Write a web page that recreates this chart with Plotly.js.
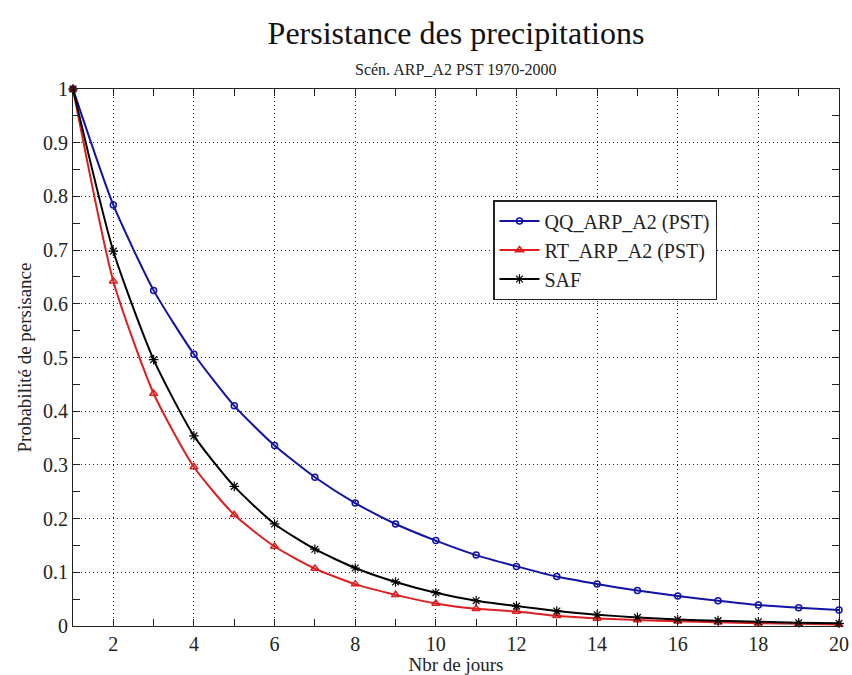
<!DOCTYPE html>
<html>
<head>
<meta charset="utf-8">
<script src="https://cdn.plot.ly/plotly-3.0.1.min.js"></script>
<style>html,body{margin:0;padding:0;background:#fff;}#chart{width:852px;height:675px;}</style>
</head>
<body>
<div id="chart"></div>
<script>
const days = [1,2,3,4,5,6,7,8,9,10,11,12,13,14,15,16,17,18,19,20];
const qqValues = [1,0.784,0.625,0.506,0.410,0.336,0.277,0.229,0.190,0.159,0.132,0.111,0.092,0.078,0.066,0.056,0.047,0.039,0.034,0.030];
const rtValues = [1,0.642,0.433,0.296,0.207,0.148,0.107,0.078,0.058,0.042,0.032,0.027,0.019,0.014,0.011,0.009,0.007,0.005,0.004,0.003];
const safValues = [1,0.698,0.496,0.354,0.260,0.190,0.143,0.108,0.082,0.062,0.047,0.037,0.028,0.021,0.016,0.012,0.010,0.008,0.006,0.005];
const seriesNames = ['QQ_ARP_A2 (PST)','RT_ARP_A2 (PST)','SAF'];
const xTickVals = [2,4,6,8,10,12,14,16,18,20];
const yTickVals = [0,0.1,0.2,0.3,0.4,0.5,0.6,0.7,0.8,0.9,1];
const yTickText = ['0','0.1','0.2','0.3','0.4','0.5','0.6','0.7','0.8','0.9','1'];

const serif = 'Liberation Serif';

const traces = [
  {x: days, y: qqValues, name: seriesNames[0], mode: 'lines+markers',
   line: {color: '#1212a6', width: 2, shape: 'spline', smoothing: 0.6},
   marker: {symbol: 'circle-open', size: 6, color: '#1212a6', line: {width: 1.5}}, cliponaxis: false},
  {x: days, y: rtValues, name: seriesNames[1], mode: 'lines+markers',
   line: {color: '#dd1f1f', width: 2, shape: 'spline', smoothing: 0.6},
   marker: {symbol: 'triangle-up-open', size: 7, color: '#dd1f1f', line: {width: 1.5}}, cliponaxis: false},
  {x: days, y: safValues, name: seriesNames[2], mode: 'lines+markers',
   line: {color: '#000000', width: 2, shape: 'spline', smoothing: 0.6},
   marker: {symbol: 'asterisk-open', size: 8, color: '#000000', line: {width: 1.2, color: '#000000'}}, cliponaxis: false}
];

const layout = {
  width: 852, height: 675,
  paper_bgcolor: '#ffffff', plot_bgcolor: '#ffffff',
  margin: {l: 73, r: 13, t: 89, b: 49},
  font: {family: serif, color: '#222222', size: 20},
  title: {text: 'Persistance des precipitations', font: {family: serif, size: 32, color: '#111'},
          x: 0.5, xref: 'paper', y: 1 - 33/675, yref: 'container', yanchor: 'middle'},
  annotations: [
    {text: 'Scén. ARP_A2 PST 1970-2000', xref: 'paper', yref: 'paper', x: 0.5, y: 1 + (89-70)/537,
     yanchor: 'middle', xanchor: 'center', showarrow: false, font: {family: serif, size: 16, color: '#222'}}
  ],
  xaxis: {
    range: [1, 20], tickvals: xTickVals, ticks: 'inside', ticklen: 7, tickcolor: '#222', tickwidth: 1,
    showline: true, linecolor: '#222', linewidth: 1, mirror: 'ticks',
    showgrid: true, gridcolor: '#222', griddash: '1px,3px', gridwidth: 1,
    minor: {dtick: 1, tick0: 1, ticks: 'inside', ticklen: 7, tickcolor: '#222', showgrid: false},
    zeroline: false, tickfont: {family: serif, size: 20, color: '#222'},
    title: {text: 'Nbr de jours', font: {family: serif, size: 19, color: '#222'}, standoff: 4}
  },
  yaxis: {
    range: [0, 1], tickvals: yTickVals, ticktext: yTickText, ticks: 'inside', ticklen: 7, tickcolor: '#222', tickwidth: 1,
    showline: true, linecolor: '#222', linewidth: 1, mirror: 'ticks',
    showgrid: true, gridcolor: '#222', griddash: '1px,3px', gridwidth: 1,
    minor: {dtick: 0.05, tick0: 0, ticks: 'inside', ticklen: 7, tickcolor: '#222', showgrid: false},
    zeroline: false, tickfont: {family: serif, size: 20, color: '#222'},
    title: {text: 'Probabilité de persisance', font: {family: serif, size: 19, color: '#222'}, standoff: 6}
  },
  showlegend: true,
  legend: {x: (493-73)/766, y: (626-200)/537, xanchor: 'left', yanchor: 'top',
           bgcolor: '#ffffff', bordercolor: '#222', borderwidth: 1.5,
           font: {family: serif, size: 20, color: '#222'}, tracegroupgap: 0, itemwidth: 40}
};

Plotly.newPlot('chart', traces, layout, {displayModeBar: false, staticPlot: true});
</script>
</body>
</html>
